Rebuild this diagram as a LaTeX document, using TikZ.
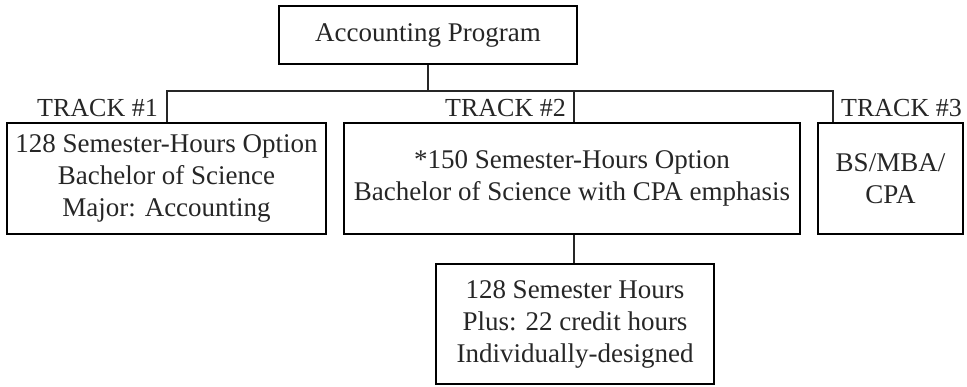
\documentclass[tikz,border=0pt]{standalone}
\usepackage{fontspec}
\setmainfont{Liberation Serif}
\begin{document}
\begin{tikzpicture}[x=1pt,y=1pt,
  box/.style={draw, line width=2pt, align=center, inner sep=0pt,
    font=\fontsize{27}{32}\selectfont, text=black!85},
  lab/.style={inner sep=0pt, font=\fontsize{26}{30}\selectfont, text=black!85},
  conn/.style={line width=2pt, draw=black!85}]
\useasboundingbox (0,0) rectangle (967,-386);
\node[box, minimum width=298pt, minimum height=58pt] (top) at (428,-35) {Accounting Program};
\node[box, minimum width=319pt, minimum height=111pt] (b1) at (166.5,-178.5) {128 Semester-Hours Option\\Bachelor of Science\\Major: Accounting};
\node[box, minimum width=456pt, minimum height=111pt] (b2) at (572,-178.5) {*150 Semester-Hours Option\\Bachelor of Science with CPA emphasis};
\node[box, minimum width=145pt, minimum height=111pt] (b3) at (890.5,-178.5) {BS/MBA/\\CPA};
\node[box, minimum width=278pt, minimum height=120pt] (b4) at (575,-324) {128 Semester Hours\\Plus: 22 credit hours\\Individually-designed};
\coordinate (j1) at (167,-91);
\coordinate (j2) at (573.5,-91);
\coordinate (j3) at (833,-91);
\draw[conn] (top.south) -- (top.south |- j1);
\draw[conn] (b1.north -| j1) -- (j1) -- (j3) -- (j3 |- b3.north);
\draw[conn] (j2) -- (j2 |- b2.north);
\draw[conn] (j2 |- b2.south) -- (j2 |- b4.north);
\node[lab, anchor=base east] (t1) at (158,-116) {TRACK \#1};
\node[lab, anchor=base east] (t2) at (566,-116) {TRACK \#2};
\node[lab, anchor=base west] (t3) at (841,-116) {TRACK \#3};
\end{tikzpicture}
\end{document}
